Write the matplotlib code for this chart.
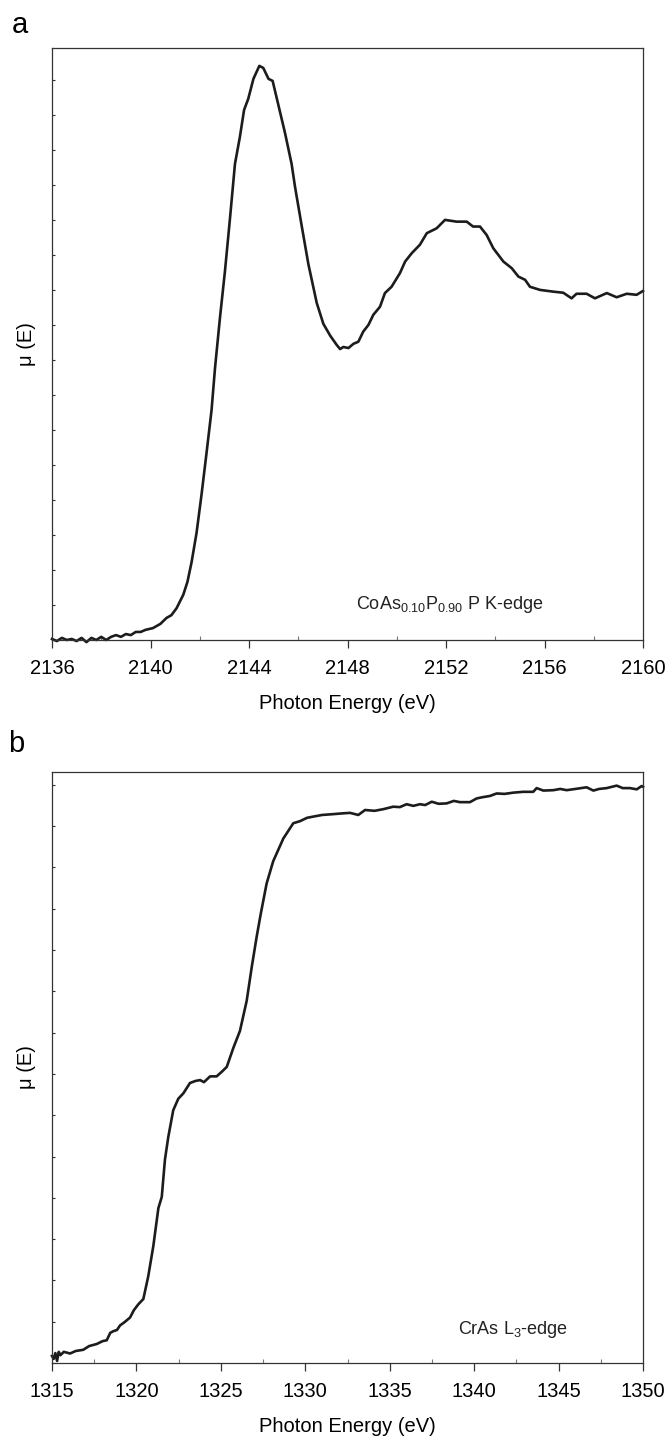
import matplotlib
matplotlib.use("Agg")
import matplotlib.pyplot as plt
from matplotlib.ticker import MultipleLocator, NullFormatter

plt.rcParams['font.family'] = ['Liberation Sans', 'DejaVu Sans']
plt.rcParams['mathtext.fontset'] = 'custom'
plt.rcParams['mathtext.rm'] = 'Liberation Sans'
plt.rcParams['mathtext.it'] = 'Liberation Sans'

# ---- Panel a: CoAs0.10P0.90 P K-edge ----
energy_a = [2136.0, 2136.2, 2136.4, 2136.6, 2136.8, 2137.0, 2137.2, 2137.4, 2137.6, 2137.8,
            2138.0, 2138.2, 2138.4, 2138.6, 2138.8, 2139.0, 2139.2, 2139.4, 2139.6, 2139.8,
            2140.1, 2140.4, 2140.65, 2140.85, 2141.06, 2141.33, 2141.5, 2141.67, 2141.87, 2142.07,
            2142.28, 2142.48, 2142.62, 2142.82, 2143.02, 2143.23, 2143.43, 2143.63, 2143.8, 2143.97,
            2144.18, 2144.42, 2144.58, 2144.79, 2144.96, 2145.2, 2145.46, 2145.73, 2145.87, 2146.14,
            2146.41, 2146.75, 2147.02, 2147.3, 2147.56, 2147.7, 2147.83, 2148.04, 2148.24, 2148.44,
            2148.64, 2148.85, 2149.05, 2149.32, 2149.52, 2149.79, 2150.13, 2150.34, 2150.61, 2150.94,
            2151.22, 2151.62, 2151.96, 2152.43, 2152.84, 2153.1, 2153.38, 2153.65, 2153.92, 2154.33,
            2154.67, 2154.94, 2155.21, 2155.41, 2155.82, 2156.36, 2156.76, 2157.1, 2157.3, 2157.71,
            2158.05, 2158.53, 2158.93, 2159.34, 2159.74, 2160.0]
mu_a = [0.003, -0.003, 0.006, 0.000, 0.003, -0.003, 0.006, -0.006, 0.006, 0.000,
        0.009, 0.000, 0.009, 0.014, 0.009, 0.017, 0.014, 0.023, 0.023, 0.029,
        0.034, 0.046, 0.063, 0.071, 0.091, 0.129, 0.166, 0.223, 0.306, 0.414,
        0.537, 0.657, 0.777, 0.920, 1.051, 1.206, 1.360, 1.437, 1.514, 1.546,
        1.603, 1.640, 1.634, 1.603, 1.597, 1.526, 1.449, 1.360, 1.294, 1.183,
        1.074, 0.963, 0.903, 0.869, 0.843, 0.831, 0.837, 0.834, 0.846, 0.852,
        0.881, 0.900, 0.929, 0.952, 0.991, 1.009, 1.048, 1.081, 1.105, 1.129,
        1.162, 1.176, 1.200, 1.195, 1.195, 1.181, 1.181, 1.157, 1.119, 1.081,
        1.062, 1.038, 1.029, 1.009, 1.000, 0.995, 0.992, 0.976, 0.989, 0.989,
        0.976, 0.991, 0.979, 0.989, 0.986, 0.997]

# ---- Panel b: CrAs L3-edge ----
energy_b = [1315.0, 1315.1, 1315.2, 1315.3, 1315.4, 1315.5, 1315.7, 1316.07, 1316.4, 1316.85,
            1317.2, 1317.65, 1318.0, 1318.24, 1318.45, 1318.63, 1318.85, 1319.03, 1319.3, 1319.62,
            1319.85, 1320.11, 1320.41, 1320.7, 1321.0, 1321.3, 1321.5, 1321.69, 1321.89, 1322.18,
            1322.48, 1322.78, 1323.17, 1323.5, 1323.77, 1324.0, 1324.36, 1324.75, 1325.05, 1325.35,
            1325.74, 1326.13, 1326.53, 1326.83, 1327.12, 1327.36, 1327.71, 1328.1, 1328.7, 1329.29,
            1329.69, 1330.1, 1330.47, 1331.0, 1331.66, 1332.25, 1332.65, 1333.14, 1333.54, 1334.1,
            1334.62, 1335.21, 1335.6, 1336.0, 1336.4, 1336.79, 1337.1, 1337.49, 1337.9, 1338.37,
            1338.8, 1339.16, 1339.75, 1340.15, 1340.5, 1340.94, 1341.33, 1341.8, 1342.32, 1342.9,
            1343.5, 1343.7, 1344.1, 1344.69, 1345.1, 1345.48, 1346.0, 1346.66, 1347.06, 1347.4,
            1347.85, 1348.44, 1348.8, 1349.23, 1349.63, 1349.92, 1350.0]
mu_b = [0.017, 0.010, 0.024, 0.005, 0.027, 0.019, 0.027, 0.023, 0.029, 0.032,
        0.041, 0.046, 0.053, 0.055, 0.073, 0.077, 0.080, 0.091, 0.099, 0.110,
        0.128, 0.142, 0.155, 0.210, 0.283, 0.375, 0.402, 0.493, 0.548, 0.612,
        0.640, 0.653, 0.678, 0.683, 0.685, 0.680, 0.694, 0.694, 0.705, 0.717,
        0.763, 0.804, 0.877, 0.959, 1.032, 1.087, 1.161, 1.215, 1.270, 1.307,
        1.312, 1.320, 1.323, 1.327, 1.329, 1.331, 1.332, 1.327, 1.339, 1.337,
        1.341, 1.347, 1.346, 1.353, 1.349, 1.353, 1.351, 1.359, 1.354, 1.355,
        1.361, 1.358, 1.358, 1.367, 1.370, 1.373, 1.379, 1.378, 1.381, 1.383,
        1.383, 1.392, 1.386, 1.387, 1.390, 1.387, 1.390, 1.394, 1.386, 1.390,
        1.392, 1.398, 1.392, 1.392, 1.389, 1.397, 1.395]

xticks_a = [2136, 2140, 2144, 2148, 2152, 2156, 2160]
xticks_b = [1315, 1320, 1325, 1330, 1335, 1340, 1345, 1350]

fig = plt.figure(figsize=(6.68, 14.38), dpi=100)
W, H = 668.0, 1438.0

def make_axes(left, top, right, bottom):
    return fig.add_axes([left / W, 1 - bottom / H, (right - left) / W, (bottom - top) / H])

ax_a = make_axes(52, 48, 643, 640)
ax_b = make_axes(52, 772, 643, 1363)

line_color = '#1c1c1c'
spine_color = '#333333'

def style(ax, xticks, xminor, ylim_top):
    for s in ax.spines.values():
        s.set_linewidth(0.9)
        s.set_color(spine_color)
    ax.set_xlim(xticks[0], xticks[-1])
    ax.set_ylim(0, ylim_top)
    ax.set_xticks(xticks)
    ax.xaxis.set_minor_locator(MultipleLocator(xminor))
    ax.yaxis.set_major_locator(MultipleLocator(0.1))
    ax.yaxis.set_major_formatter(NullFormatter())
    ax.tick_params(axis='x', which='major', direction='out', length=6, width=0.9,
                   color=spine_color, labelsize=14.5, pad=8, top=False)
    ax.tick_params(axis='x', which='minor', direction='in', length=3, width=0.8,
                   color='#777777', top=False)
    ax.tick_params(axis='y', which='major', direction='in', length=2.5, width=0.8,
                   color=spine_color, right=False)
    ax.set_xlabel('Photon Energy (eV)', fontsize=14.5, labelpad=11)
    ax.set_ylabel('\u03bc (E)', fontsize=14.5, labelpad=8)

ax_a.plot(energy_a, mu_a, color=line_color, linewidth=1.9, clip_on=False)
style(ax_a, xticks_a, 2, 1.691)
ax_a.text(0.673, 0.060, r'CoAs$_{0.10}$P$_{0.90}$ P K-edge', transform=ax_a.transAxes,
          fontsize=13, ha='center', va='center', color='#222222')

ax_b.plot(energy_b, mu_b, color=line_color, linewidth=1.9, clip_on=False)
style(ax_b, xticks_b, 2.5, 1.431)
ax_b.text(0.78, 0.057, r'CrAs L$_{3}$-edge', transform=ax_b.transAxes,
          fontsize=13, ha='center', va='center', color='#222222')

fig.text(12 / W, 1 - 33 / H, 'a', fontsize=21, ha='left', va='baseline')
fig.text(8 / W, 1 - 752 / H, 'b', fontsize=21, ha='left', va='baseline')

fig.savefig('out.png', dpi=100)
